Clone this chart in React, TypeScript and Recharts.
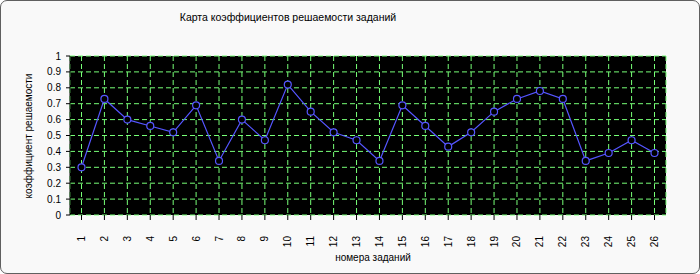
import React from "react";
import { LineChart, Line, XAxis, YAxis, CartesianGrid } from "recharts";

const categories = ["1","2","3","4","5","6","7","8","9","10","11","12","13","14","15","16","17","18","19","20","21","22","23","24","25","26"];
const values = [0.30,0.73,0.60,0.56,0.52,0.69,0.34,0.60,0.47,0.82,0.65,0.52,0.47,0.34,0.69,0.56,0.43,0.52,0.65,0.73,0.78,0.73,0.34,0.39,0.47,0.39];
const yTicks = [0,0.1,0.2,0.3,0.4,0.5,0.6,0.7,0.8,0.9,1];

const data = categories.map((c, i) => ({ name: c, value: values[i] }));

const FONT = "Liberation Sans, Arial, sans-serif";

const XTick = (props: any) => {
  const { x, y, payload } = props;
  return (
    <text x={x} y={y + 14} transform={`rotate(-90 ${x} ${y + 14})`} textAnchor="end" dominantBaseline="central" fontSize={10} fontFamily={FONT} fill="#000">
      {payload.value}
    </text>
  );
};

const YTick = (props: any) => {
  const { x, y, payload } = props;
  return (
    <text x={x - 3} y={y} textAnchor="end" dominantBaseline="central" fontSize={10} fontFamily={FONT} fill="#000">
      {String(payload.value)}
    </text>
  );
};

export default function App() {
  return (
    <div style={{ position: "absolute", left: 0, top: 0, width: 700, height: 274, boxSizing: "border-box", border: "1px solid #606060", borderRadius: 7, background: "#f9f9f9", overflow: "hidden" }}>
      <div style={{ position: "absolute", left: -1, top: -1 }}>
        <LineChart width={700} height={274} data={data} margin={{ top: 56, right: 34, left: 0, bottom: 0 }}>
          <CartesianGrid fill="#000" stroke="#77ff77" strokeWidth={1} strokeDasharray="5 3" horizontal={true} vertical={true} />
          <XAxis dataKey="name" height={59} padding={{ left: 11.5, right: 11.5 }} tick={<XTick />} tickLine={{ stroke: "#000" }} axisLine={false} tickSize={5} interval={0} />
          <YAxis domain={[0, 1]} ticks={yTicks} width={70} tick={<YTick />} tickLine={{ stroke: "#000" }} axisLine={{ stroke: "#000" }} tickSize={4} interval={0} />
          <Line type="linear" dataKey="value" stroke="#5555ff" strokeWidth={1.2} isAnimationActive={false}
            dot={{ r: 3.5, stroke: "#5555ff", strokeWidth: 1.2, fill: "#000" }} />
          <text x={288} y={21} textAnchor="middle" fontSize={10.5} fontFamily={FONT} fill="#000">Карта коэффициентов решаемости заданий</text>
          <text x={373} y={261} textAnchor="middle" fontSize={10} fontFamily={FONT} fill="#000">номера заданий</text>
          <text x={32} y={136} textAnchor="middle" fontSize={10} fontFamily={FONT} fill="#000" transform="rotate(-90 32 136)">коэффициент решаемости</text>
        </LineChart>
      </div>
    </div>
  );
}
